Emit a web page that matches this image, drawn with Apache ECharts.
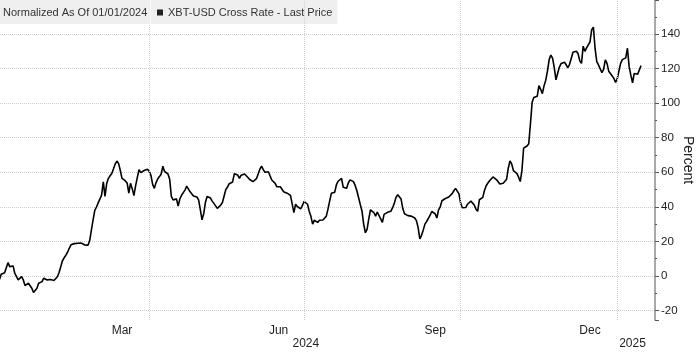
<!DOCTYPE html>
<html>
<head>
<meta charset="utf-8">
<script src="https://cdn.jsdelivr.net/npm/echarts@6/dist/echarts.min.js"></script>
<style>
  html, body { margin: 0; padding: 0; background: #fff; }
  #chart { width: 700px; height: 352px; }
</style>
</head>
<body>
<div id="chart"></div>
<script>
// daily closes, normalized to 01/01/2024 (percent), from 2024-01-04 on
var startDate = '2024-01-04';
var values = [
  -2, 1, 0.8, 1.9, 2.5, 7.7, 5.4, 6.4, 5.8, 1.5,
  -0.4, -2.3, -1.3, -0.4, -2.3, -5.6, -4.6, -4.2, -4.6, -7.1,
  -9.6, -9.1, -7.1, -4.2, -3.9, -3.3, -1.3, -0.4, -2.3, -1.7,
  -2.1, -2.2, -2.6, -2.2, -0.5, 2, 5.3, 8.8, 10.5, 12,
  13.7, 16, 18, 18.5, 18.7, 18.9, 18.9, 19.2, 19, 18.4,
  18, 17.1, 17.8, 20.5, 26.5, 32.5, 38, 39.9, 42.3, 43.2,
  46.8, 54.5, 46, 53.5, 56.5, 58, 59.3, 62, 64.8, 66.5,
  65, 61, 56.5, 55.5, 55, 53.8, 48, 53.6, 50.5, 46.5,
  52.3, 57, 61.5, 59.8, 60.4, 61, 60.6, 61.8, 60.5, 58.2,
  53, 50.7, 54, 56.2, 57.5, 58.9, 63.5, 60.5, 61, 59,
  56, 46, 44, 44.5, 44.6, 40.5, 44.6, 46.7, 48.2, 49.7,
  52, 52.4, 48.7, 48.3, 46.3, 46.7, 45.7, 44, 38.5, 32.5,
  36, 42.5, 46, 45.7, 45.1, 43.3, 42, 43, 39.1, 40,
  41, 42.5, 43.5, 50, 51.5, 53.4, 53.2, 54.4, 59.2, 59.7,
  58.4, 56.5, 58.3, 57.9, 59, 59.2, 57, 55.8, 55.4, 54.6,
  55.2, 56.3, 59, 61.8, 63.6, 61.5, 60, 59.3, 60.3, 59.3,
  55.5, 56.5, 53.6, 51.6, 50.7, 51.6, 51, 48.7, 48.6, 47.9,
  48, 46.6, 45.5, 36.6, 41.5, 40.2, 40, 38.8, 40.8, 43.2,
  44.2, 41.5, 37.5, 34.5, 30, 32.2, 31.4, 31, 32.2, 31.8,
  32.4, 32.4, 34.5, 38.5, 43.3, 47.8, 48, 48.5, 52.8, 54.8,
  55.8, 56.4, 51.3, 50.5, 50.8, 53.9, 55.6, 55.7, 54.6, 52.4,
  49.3, 45.4, 41.4, 37.6, 30, 25, 27, 33, 38.3, 39.1,
  36.7, 34.6, 37, 37.5, 33, 31, 35.6, 36.3, 36.8, 36.5,
  37.5, 39.5, 42, 45.5, 47, 46.6, 44.5, 39, 36, 35.5,
  34.9, 34.5, 34.6, 34, 33.5, 32, 28, 21.5, 23.5, 26.5,
  30, 31.5, 32.6, 35, 37.3, 37.5, 36, 33.5, 38.2, 40,
  43.5, 44.6, 44.8, 45.2, 45.7, 46.2, 47.6, 49.3, 50.7, 51,
  47.5, 42, 39.5, 39.4, 39.6, 41.5, 41.3, 43.3, 43.2, 41,
  38.6, 37.4, 44.1, 44.3, 45.5, 49.5, 52.2, 53.8, 55.1, 56.2,
  57.3, 56.9, 55.8, 54.9, 53.2, 54, 53.7, 54.4, 56, 62.5,
  66.6, 64.7, 61, 59.9, 59.4, 57.3, 54.6, 61, 74, 74.8,
  75.2, 76.5, 88, 100.5, 103.3, 103.7, 104, 110.2, 108, 105.5,
  110, 113.3, 118.5, 125.2, 127.8, 126, 120.5, 113.5, 114, 120.9,
  122.9, 123.6, 123.7, 122.2, 120.5, 122.5, 126, 129.5, 130.4, 130,
  128.6, 124.5, 123, 133, 130, 132, 132.7, 135.5, 142.5, 144,
  131.5, 124, 122.1, 121.2, 117.7, 119.5, 125, 123, 118.5, 117.2,
  116.6, 114.4, 112, 114, 118.6, 123, 125.2, 125.8, 126.2, 131.8,
  121.1, 116.2, 111.8, 117.2, 117.6, 116.7, 117.5, 121.7
];

var monthTicks = ['2024-03-16', '2024-06-16', '2024-09-16', '2024-12-16'];
var monthNames = ['Mar', 'Jun', 'Sep', 'Dec'];
var yearTicks = ['2024-07-02', '2025-01-10'];
var yearNames = ['2024', '2025'];
var quarterLines = ['2024-04-01', '2024-07-01', '2024-10-01', '2025-01-01'];

var DAY = 86400000;
function ts(s) {
  var p = s.split('-');
  return Date.UTC(+p[0], +p[1] - 1, +p[2]);
}

var t0 = ts(startDate);
var seriesData = values.map(function (v, i) { return [t0 + i * DAY, v]; });
var xMin = ts('2024-01-04') + 0.3 * DAY;
var xMax = ts('2025-01-23') + 0.2 * DAY;

function labelFor(list, names) {
  return function (v) {
    for (var i = 0; i < list.length; i++) {
      if (Math.abs(ts(list[i]) - v) < DAY / 2) return names[i];
    }
    return '';
  };
}

var font = '"Liberation Sans", sans-serif';
var chart = echarts.init(document.getElementById('chart'));

function dateAxis(ticks, names, offset) {
  return {
    type: 'value',
    position: 'bottom',
    offset: offset,
    min: xMin,
    max: xMax,
    axisLine: { show: false },
    axisTick: { show: false },
    splitLine: { show: false },
    axisLabel: {
      customValues: ticks.map(ts),
      formatter: labelFor(ticks, names),
      margin: 5,
      fontFamily: font,
      fontSize: 12,
      color: '#222'
    }
  };
}

var option = {
  animation: false,
  title: {
    text: 'Normalized As Of 01/01/2024',
    left: 0,
    top: 0,
    padding: [7, 3, 6, 3],
    backgroundColor: '#efefef',
    textStyle: { fontFamily: font, fontSize: 11, fontWeight: 'normal', color: '#333' }
  },
  legend: {
    left: 151,
    top: 0,
    padding: [7, 5, 6, 6],
    backgroundColor: '#efefef',
    icon: 'rect',
    itemWidth: 6,
    itemHeight: 6,
    itemGap: 2,
    itemStyle: { color: '#222', borderWidth: 0 },
    textStyle: { fontFamily: font, fontSize: 11, color: '#333' },
    data: ['XBT-USD Cross Rate - Last Price']
  },
  grid: { left: 0, right: 45, top: 0, bottom: 32, outerBoundsMode: 'none', containLabel: false },
  xAxis: [
    dateAxis(monthTicks, monthNames, 0),
    dateAxis(yearTicks, yearNames, 13)
  ],
  yAxis: {
    type: 'value',
    position: 'right',
    min: -25.5,
    max: 159.7,
    minInterval: 20,
    maxInterval: 20,
    name: 'Percent',
    nameLocation: 'middle',
    nameRotate: -90,
    nameGap: 26,
    nameMoveOverlap: false,
    nameTextStyle: { fontFamily: font, fontSize: 14, color: '#222' },
    axisLine: { show: true, lineStyle: { color: '#8c8c8c', width: 1.5 } },
    axisTick: { show: true, inside: false, length: 4, lineStyle: { color: '#555' } },
    minorTick: { show: true, splitNumber: 2, length: 2, lineStyle: { color: '#555' } },
    axisLabel: {
      showMinLabel: false,
      showMaxLabel: false,
      margin: 6,
      fontFamily: font,
      fontSize: 11.5,
      color: '#222'
    },
    splitLine: {
      show: true,
      showMinLine: false,
      showMaxLine: false,
      lineStyle: { type: 'dotted', color: '#cfcfcf', width: 1 }
    }
  },
  series: [
    {
      name: 'XBT-USD Cross Rate - Last Price',
      type: 'line',
      xAxisIndex: 0,
      data: seriesData,
      showSymbol: false,
      symbol: 'none',
      color: '#000',
      lineStyle: { color: '#000', width: 1.6 },
      markLine: {
        silent: true,
        symbol: 'none',
        label: { show: false },
        lineStyle: { type: 'dotted', color: '#cfcfcf', width: 1 },
        data: quarterLines.map(function (d) { return { xAxis: ts(d) }; })
      }
    }
  ]
};

chart.setOption(option);
</script>
</body>
</html>
